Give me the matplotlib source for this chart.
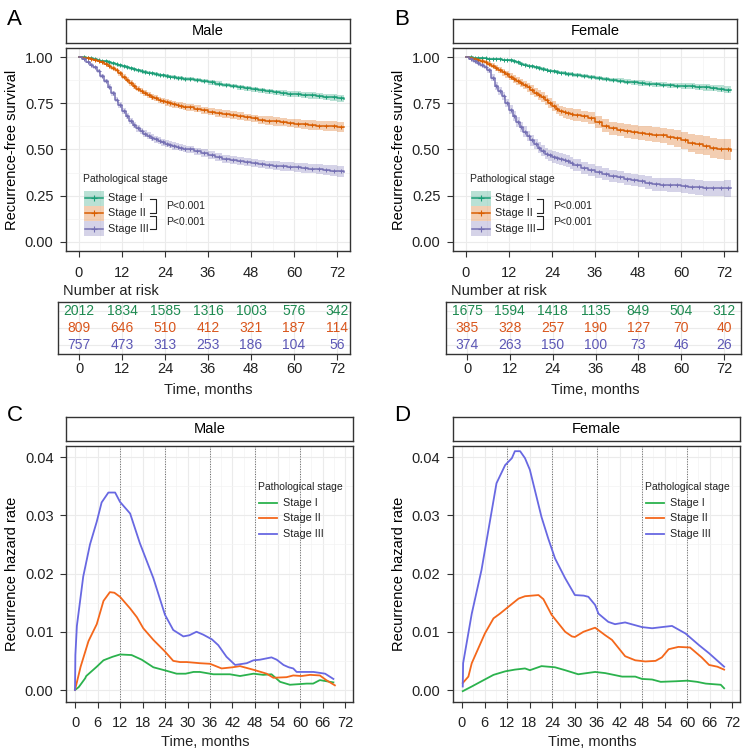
import matplotlib
matplotlib.use('Agg')
import matplotlib.pyplot as plt
import matplotlib.transforms as mtransforms
from matplotlib.patches import Rectangle
from matplotlib.lines import Line2D
import numpy as np

plt.rcParams['font.family'] = ['Liberation Sans', 'DejaVu Sans']

W=748
H=752

stages=["Stage I","Stage II","Stage III"]
km_col=["#1b9e77","#d95f02","#7570b3"]
risk_col=["#1d8a50","#d9561c","#5c57b5"]
haz_col=["#2bb24d","#f4671b","#6868e2"]

# number at risk
risk_times=[0,12,24,36,48,60,72]
male_risk=[[2012,1834,1585,1316,1003,576,342],
	[809,646,510,412,321,187,114],
	[757,473,313,253,186,104,56]]
female_risk=[[1675,1594,1418,1135,849,504,312],
	[385,328,257,190,127,70,40],
	[374,263,150,100,73,46,26]]

# Kaplan-Meier curves (monthly up to 30, then every 2 months)
km_time=[0,1,2,3,4,5,6,7,8,9,10,11,12,13,14,15,16,17,18,19,20,
	21,22,23,24,25,26,27,28,29,30,
	32,34,36,38,40,42,44,46,48,50,52,54,56,58,60,62,64,66,68,70,72,74]

male_s1=[1.0,0.999,0.997,0.994,0.99,0.986,0.982,0.977,0.972,0.967,0.962,
	0.956,0.95,0.945,0.94,0.935,0.93,0.925,0.92,0.916,0.912,
	0.908,0.905,0.901,0.898,0.895,0.892,0.889,0.887,0.884,0.882,
	0.877,0.871,0.864,0.857,0.85,0.844,0.838,0.832,0.826,0.82,0.815,
	0.81,0.806,0.802,0.799,0.796,0.793,0.79,0.786,0.782,0.778,0.774]
male_s2=[1.0,0.998,0.995,0.99,0.985,0.98,0.975,0.966,0.955,0.943,0.93,
	0.913,0.895,0.877,0.86,0.845,0.83,0.817,0.805,0.795,0.785,
	0.777,0.77,0.762,0.755,0.75,0.745,0.741,0.737,0.732,0.728,
	0.72,0.712,0.705,0.698,0.692,0.686,0.68,0.674,0.668,0.662,0.657,
	0.652,0.648,0.644,0.64,0.636,0.633,0.63,0.628,0.626,0.624,0.622]
male_s3=[1.0,0.988,0.975,0.96,0.945,0.925,0.9,0.87,0.84,0.805,0.77,
	0.74,0.71,0.682,0.655,0.634,0.615,0.6,0.585,0.575,0.565,
	0.556,0.548,0.54,0.532,0.526,0.52,0.515,0.51,0.505,0.5,
	0.49,0.48,0.47,0.46,0.45,0.443,0.437,0.432,0.427,0.422,0.417,
	0.413,0.409,0.406,0.403,0.4,0.397,0.394,0.39,0.386,0.382,0.378]

male_ci1=[0,.002,.003,.0035,.004,.0045,.005,.0055,.006,.0065,.007,
	.007,.007,.0075,.008,.008,.008,.0085,.009,.009,.009,
	.0095,.01,.01,.01,.01,.01,.0105,.011,.011,.011,
	.011,.012,.012,.012,.013,.013,.013,.014,.014,.014,.015,
	.015,.015,.016,.016,.016,.017,.017,.017,.018,.018,.019]
male_ci2=[0,.002,.004,.005,.006,.007,.008,.009,.01,.011,.012,
	.0125,.013,.0135,.014,.0145,.015,.0155,.016,.016,.016,
	.0165,.017,.017,.017,.0175,.018,.018,.018,.018,.018,
	.019,.019,.019,.02,.02,.02,.021,.021,.021,.022,.022,
	.022,.023,.023,.024,.024,.025,.025,.026,.026,.027,.028]
male_ci3=[0,.004,.006,.007,.008,.0095,.011,.012,.013,.014,.015,
	.0155,.016,.0165,.017,.0175,.018,.018,.018,.0185,.019,
	.019,.019,.019,.019,.0195,.02,.02,.02,.02,.02,
	.02,.021,.021,.021,.021,.022,.022,.022,.022,.023,.023,
	.024,.024,.025,.025,.026,.026,.027,.028,.029,.03,.032]

female_s1=[1.0,0.999,0.998,0.997,0.996,0.995,0.993,0.992,0.99,0.989,0.987,
	0.985,0.983,0.978,0.972,0.966,0.96,0.955,0.951,0.946,0.942,
	0.937,0.933,0.928,0.923,0.92,0.917,0.914,0.911,0.908,0.905,
	0.9,0.894,0.887,0.882,0.877,0.872,0.868,0.864,0.86,0.857,0.854,
	0.851,0.848,0.846,0.844,0.842,0.839,0.836,0.833,0.829,0.824,0.82]
female_s2=[1.0,0.997,0.993,0.987,0.98,0.973,0.965,0.954,0.942,0.93,0.918,
	0.907,0.895,0.884,0.872,0.861,0.85,0.836,0.822,0.808,0.795,
	0.783,0.77,0.752,0.735,0.72,0.708,0.702,0.697,0.692,0.687,
	0.679,0.671,0.65,0.63,0.615,0.607,0.601,0.595,0.589,0.585,0.581,
	0.577,0.57,0.561,0.55,0.536,0.528,0.52,0.508,0.503,0.5,0.493]
female_s3=[1.0,0.99,0.978,0.968,0.958,0.948,0.93,0.89,0.845,0.818,0.79,
	0.752,0.715,0.68,0.648,0.622,0.597,0.573,0.55,0.53,0.51,
	0.493,0.477,0.468,0.459,0.453,0.448,0.443,0.437,0.426,0.416,
	0.4,0.387,0.377,0.368,0.358,0.349,0.341,0.335,0.33,0.32,0.311,
	0.309,0.308,0.307,0.303,0.299,0.295,0.291,0.289,0.289,0.289,0.289]

female_ci1=[0,.001,.002,.0025,.003,.0035,.004,.0045,.005,.0055,.006,
	.0065,.007,.0075,.008,.008,.008,.0085,.009,.009,.009,
	.0095,.01,.01,.01,.01,.01,.0105,.011,.011,.011,
	.011,.012,.012,.012,.013,.013,.013,.013,.014,.014,.014,
	.015,.015,.015,.016,.016,.016,.017,.017,.018,.018,.019]
female_ci2=[0,.003,.006,.008,.01,.0115,.013,.0145,.016,.017,.018,
	.019,.02,.021,.022,.0225,.023,.024,.025,.0255,.026,
	.0265,.027,.0275,.028,.0285,.029,.0295,.03,.0305,.031,
	.032,.033,.034,.034,.035,.036,.037,.038,.039,.04,.041,
	.042,.043,.045,.046,.048,.05,.052,.054,.056,.058,.06]
female_ci3=[0,.004,.008,.0095,.011,.0125,.014,.017,.02,.021,.022,
	.0235,.025,.026,.027,.0275,.028,.0285,.029,.0295,.03,
	.0305,.031,.031,.031,.031,.031,.0315,.032,.032,.032,
	.032,.032,.033,.033,.033,.033,.034,.034,.034,.035,.035,
	.035,.036,.037,.038,.039,.04,.041,.042,.043,.044,.045]

# hazard curves (months, hazard)
male_h1_t=[0,1,2.7,3,5.8,7.6,10,12,15.1,17.8,20.9,24.4,27.1,29.5,31.6,33.3,36.9,41.3,44,47.6,
	50.2,52.4,54.7,57.3,61.8,63.5,65.3,68.9]
male_h1=[0,0.0005,0.002,0.0024,0.004,0.0051,0.0057,0.0061,0.006,0.0052,
	0.0039,0.0033,0.0028,0.0028,0.0031,0.0031,0.0027,0.0027,0.0024,0.0028,
	0.0026,0.0027,0.0014,0.0009,0.0011,0.0011,0.0017,0.0013]
male_h2_t=[0,1.5,3.6,5.8,7.6,9.3,10.5,12,14.7,16.5,18.2,20.9,24,26.2,28,29.8,33.3,36,39.1,42,
	44,48,51.1,52.9,56.4,58.2,60.4,62.7,65.3,67,69.3]
male_h2=[0,0.004,0.0084,0.0113,0.0153,0.0168,0.0167,0.016,0.014,0.0125,
	0.0106,0.0086,0.0066,0.005,0.0048,0.0048,0.0046,0.0045,0.0037,0.0039,
	0.0041,0.0034,0.0028,0.0021,0.0022,0.0025,0.0024,0.0026,0.0025,0.0017,0.0008]
male_h3_t=[0,0.1,0.5,2.2,4,5.8,7.1,8.9,10.7,12,14.7,17.3,20.9,24,26.2,28.9,30.5,32.4,34.2,36.5,
	38.2,40.4,42.7,45.8,47.6,49.3,52.4,53.8,55.6,57,58.2,59.1,63.6,66.7,68.9]
male_h3=[0,0.006,0.011,0.0195,0.025,0.0289,0.0322,0.0339,0.0339,0.0323,
	0.0303,0.0252,0.0192,0.0129,0.0103,0.0092,0.0094,0.01,0.0095,0.0087,
	0.0077,0.0057,0.0043,0.0046,0.0051,0.0052,0.0056,0.0052,0.0043,0.0039,
	0.0037,0.0031,0.0031,0.0028,0.0019]

female_h1_t=[0.2,2.6,5.2,8.4,11.5,14.1,16.8,18.1,21.2,24.8,27.5,31,35.5,38.2,42.7,46.2,48,50.7,53,57,
	60.1,62.7,65,69,69.9]
female_h1=[-0.0002,0.0006,0.0015,0.0026,0.0032,0.0035,0.0037,0.0034,0.0041,0.0039,
	0.0034,0.0027,0.0031,0.0029,0.0023,0.0023,0.0019,0.0018,0.0014,0.0015,
	0.0016,0.0014,0.0011,0.0009,0.0003]
female_h2_t=[0.2,1.7,2.6,6.1,8.4,10.1,12.4,15.1,16.8,20.4,21.7,23.9,27.5,29.3,30.1,32.4,35.5,38.2,40,43.5,
	46.2,48.9,51.6,53.3,55.1,57.7,60.8,63.9,65.9,68.1,69.9]
female_h2=[0.0012,0.0023,0.0046,0.0097,0.0123,0.0131,0.0143,0.0157,0.0161,0.0163,
	0.0156,0.0129,0.01,0.0092,0.0091,0.01,0.0107,0.0094,0.0086,0.0058,
	0.0051,0.0049,0.005,0.0056,0.007,0.0074,0.0073,0.0056,0.0043,0.004,0.0035]
female_h3_t=[0.2,0.3,2.6,5.2,9.2,11.5,13.3,14.1,15.5,16.8,18.1,21.2,23,24.8,27.5,30.1,32.5,33.7,35.5,36.4,
	39,40.8,43.5,48,50.7,53.3,56,59.6,63.2,65.9,69.9]
female_h3=[0.0006,0.0046,0.0131,0.0206,0.0355,0.0386,0.0398,0.041,0.041,0.0398,
	0.0378,0.0297,0.026,0.0226,0.0192,0.0163,0.0162,0.016,0.0146,0.0131,
	0.0117,0.0113,0.0116,0.0108,0.0106,0.0108,0.011,0.0097,0.0077,0.0063,0.004]

fig=plt.figure(figsize=(W/100.0,H/100.0),dpi=100)
# pixel coordinates, origin top left
pt=mtransforms.Affine2D().scale(1.0/W,-1.0/H).translate(0,1)+fig.transFigure

EDGE="#333333"

def add_ax(l,t,r,b):
	return fig.add_axes([l/W,1-b/H,(r-l)/W,(b-t)/H])

def style_ax(ax):
	for s in ax.spines.values():
		s.set_color(EDGE)
		s.set_linewidth(1.0)
	ax.set_axisbelow(True)
	ax.grid(which='major',color='#ebebeb',lw=0.8)
	ax.grid(which='minor',color='#f3f3f3',lw=0.5)
	ax.tick_params(which='minor',length=0)
	ax.tick_params(which='major',length=4,width=0.8,color=EDGE,labelsize=10.5,pad=5,labelcolor='#222222')

def add_strip(l,t,r,b,label):
	ax=add_ax(l,t,r,b)
	ax.set_xticks([])
	ax.set_yticks([])
	for s in ax.spines.values():
		s.set_color(EDGE)
		s.set_linewidth(1.0)
	ax.text(0.5,0.5,label,ha='center',va='center',fontsize=10.5,transform=ax.transAxes)

def txt(x,y,s,**kw):
	fig.text(x,y,s,transform=pt,**kw)

def km_panel(l,surv,ci,letter,sex):
	add_strip(l,19,l+284,43,sex)
	ax=add_ax(l,48,l+284,251)
	t=np.array(km_time,dtype=float)
	mid=(t[:-1]+t[1:])/2
	for i in range(3):
		s=np.array(surv[i])
		h=np.array(ci[i])
		ax.fill_between(t,s-h,s+h,step='post',color=km_col[i],alpha=0.3,lw=0)
		ax.step(t,s,where='post',color=km_col[i],lw=1.1)
		# censoring ticks
		ax.plot(mid[1:],s[1:-1],ls='none',marker='+',ms=3.5,mew=0.7,color=km_col[i])
	ax.set_xlim(-3.6,75.6)
	ax.set_ylim(-0.05,1.05)
	ax.set_xticks(risk_times)
	ax.set_xticks([6,18,30,42,54,66],minor=True)
	ax.set_yticks([0,0.25,0.5,0.75,1.0])
	ax.set_yticklabels(["0.00","0.25","0.50","0.75","1.00"])
	ax.set_yticks([0.125,0.375,0.625,0.875],minor=True)
	style_ax(ax)
	ax.tick_params(axis='x',pad=7)
	txt(l-54,150,"Recurrence-free survival",rotation=90,ha='center',va='center',fontsize=10.5)
	txt(l-59,25,letter,fontsize=16)

	# legend
	txt(l+17,179,"Pathological stage",fontsize=7.5,va='center',color='#222222')
	rows=[198,213,228.5]
	for i in range(3):
		fig.add_artist(Rectangle((l+18,rows[i]-7.5),20,15,transform=pt,facecolor=km_col[i],alpha=0.3,lw=0))
		fig.add_artist(Line2D([l+19,l+37],[rows[i],rows[i]],transform=pt,color=km_col[i],lw=1.1))
		fig.add_artist(Line2D([l+28],[rows[i]],transform=pt,color=km_col[i],marker='+',ms=4,mew=0.8))
		txt(l+42,rows[i],stages[i],fontsize=7.8,va='center',color='#222222')
	bx=l+90
	for (y0,y1) in [(199,212.5),(215.5,228.5)]:
		fig.add_artist(Line2D([bx-6,bx,bx,bx-6],[y0,y0,y1,y1],transform=pt,color='#222222',lw=0.8))
	txt(l+100,206,"P<0.001",fontsize=7.5,va='center',color='#222222')
	txt(l+100,222,"P<0.001",fontsize=7.5,va='center',color='#222222')
	return ax

def risk_table(l,r,zero,scale,risk):
	ax=add_ax(l,302,r,354)
	for i in range(3):
		for j in range(len(risk_times)):
			ax.text(risk_times[j],2.5-i,str(risk[i][j]),color=risk_col[i],ha='center',va='center',fontsize=10)
	ax.set_xlim((l-zero)/scale,(r-zero)/scale)
	ax.set_ylim(0,3)
	ax.set_xticks(risk_times)
	ax.set_yticks([0.5,1.5,2.5])
	ax.set_yticklabels([])
	style_ax(ax)
	ax.tick_params(axis='y',length=0)
	ax.tick_params(axis='x',pad=2)
	txt(l+5,291,"Number at risk",fontsize=10.5,va='center',color='#222222')
	txt((zero+zero+72*scale)/2,390,"Time, months",fontsize=10.5,ha='center',va='center',color='#222222')

def haz_panel(l,curves,letter,sex):
	add_strip(l,417,l+287,441,sex)
	ax=add_ax(l,446,l+287,702)
	for v in [12,24,36,48,60]:
		ax.axvline(v,color='#666666',ls=(0,(1,1.6)),lw=0.7)
	for i in range(3):
		ax.plot(curves[i][0],curves[i][1],color=haz_col[i],lw=1.3)
	ax.set_xlim(-(75-66)/3.75,(353-75)/3.75)
	ax.set_ylim(-0.00206,0.04189)
	ax.set_xticks(np.arange(0,73,6))
	ax.set_xticks(np.arange(3,72,6),minor=True)
	ax.set_yticks([0,0.01,0.02,0.03,0.04])
	ax.set_yticklabels(["0.00","0.01","0.02","0.03","0.04"])
	ax.set_yticks([0.005,0.015,0.025,0.035],minor=True)
	style_ax(ax)
	ax.tick_params(axis='x',pad=6)
	txt(l-54,574,"Recurrence hazard rate",rotation=90,ha='center',va='center',fontsize=10.5)
	txt(l+139,742,"Time, months",fontsize=10.5,ha='center',va='center',color='#222222')
	txt(l-59,421,letter,fontsize=16)
	# legend
	txt(l+192.5,486.5,"Pathological stage",fontsize=7.5,va='center',color='#222222')
	rows=[503,518,534]
	for i in range(3):
		fig.add_artist(Line2D([l+193,l+211],[rows[i],rows[i]],transform=pt,color=haz_col[i],lw=1.3))
		txt(l+217,rows[i],stages[i],fontsize=7.8,va='center',color='#222222')

km_panel(66,[male_s1,male_s2,male_s3],[male_ci1,male_ci2,male_ci3],"A","Male")
km_panel(453,[female_s1,female_s2,female_s3],[female_ci1,female_ci2,female_ci3],"B","Female")
risk_table(58,350,79,258/72.0,male_risk)
risk_table(446,741,467,257/72.0,female_risk)
haz_panel(66,[(male_h1_t,male_h1),(male_h2_t,male_h2),(male_h3_t,male_h3)],"C","Male")
haz_panel(453,[(female_h1_t,female_h1),(female_h2_t,female_h2),(female_h3_t,female_h3)],"D","Female")

fig.savefig("out.png",dpi=100)
